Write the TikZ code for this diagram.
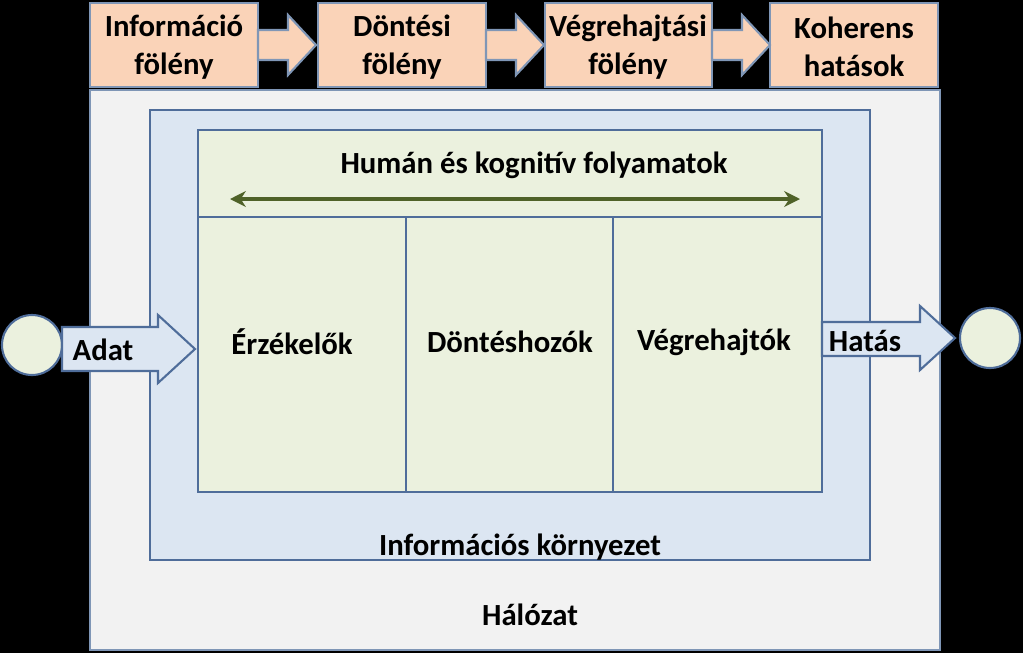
\documentclass[tikz,border=0pt]{standalone}
\usepackage{fontspec}
\setmainfont{Carlito}
\usetikzlibrary{shapes.arrows,arrows.meta}
\definecolor{peach}{HTML}{FAD3B8}
\definecolor{bord}{HTML}{7F96B6}
\definecolor{lblue}{HTML}{DCE6F2}
\definecolor{lgreen}{HTML}{EBF1DE}
\definecolor{dgreen}{HTML}{4F6228}
\definecolor{dblue}{HTML}{4F6D9A}
\tikzset{
  px/.style={x=0.02cm,y=-0.02cm},
  lbl/.style={font=\bfseries\fontsize{17.5}{21.5}\selectfont, align=center, text=black},
  topbox/.style={draw=bord, line width=1.2pt, fill=peach},
  blk/.style={draw=dblue, line width=1.2pt},
}
\begin{document}
\begin{tikzpicture}[px]
\fill[black] (0,0) rectangle (1023,653);
\useasboundingbox (0,0) rectangle (1023,653);
% top row
\draw[topbox] (90,3) rectangle (258,87);
\draw[topbox] (318,3) rectangle (486,87);
\draw[topbox] (545,3) rectangle (712,87);
\draw[topbox] (770,3) rectangle (938,87);
\node[lbl] (t1) at (174,47) {Információ\\fölény};
\node[lbl] (t2) at (402,47) {Döntési\\fölény};
\node[lbl] (t3) at (628,47) {Végrehajtási\\fölény};
\node[lbl] (t4) at (854,47) {Koherens\\hatások};
\foreach \a in {258,486,712}{
  \draw[topbox] (\a,30) -- (\a+30,30) -- (\a+30,15) -- (\a+58,45) -- (\a+30,75) -- (\a+30,60) -- (\a,60) -- cycle;
}
% nested boxes
\draw[blk, draw=bord, fill=white!95!black] (90,90) rectangle (940,650);
\draw[blk, fill=lblue] (150,110) rectangle (870,560);
\draw[blk, fill=lgreen] (198,130) rectangle (822,492);
\draw[blk] (198,217) -- (822,217);
\draw[blk] (406,217) -- (406,492);
\draw[blk] (613,217) -- (613,492);
\node[lbl] (hum) at (534,165) {Humán és kognitív folyamatok};
\coordinate (al) at (230,199);
\coordinate (ar) at (800,199);
\draw[dgreen, line width=2.2pt, {Stealth[length=9pt,width=9pt]}-{Stealth[length=9pt,width=9pt]}] (al) -- (ar);
\node[lbl] (e) at (292,342) {Érzékelők};
\node[lbl] (d) at (510,342) {Döntéshozók};
\node[lbl] (v) at (714,342) {Végrehajtók};
\node[lbl] (ik) at (520,547) {Információs környezet};
\node[lbl] (h) at (530,615) {Hálózat};
% circles
\draw[blk, fill=lgreen] (32,345) circle (30);
\draw[blk, fill=lgreen] (990,338) circle (30);
% arrows
\draw[blk, fill=lblue] (62,327) -- (158,327) -- (158,315) -- (195,349) -- (158,383) -- (158,371) -- (62,371) -- cycle;
\node[lbl] (ad) at (103,350) {Adat};
\draw[blk, fill=lblue] (822,322) -- (920,322) -- (920,306) -- (955,338) -- (920,370) -- (920,356) -- (822,356) -- cycle;
\node[lbl] (ha) at (865,341) {Hatás};
\end{tikzpicture}
\end{document}
